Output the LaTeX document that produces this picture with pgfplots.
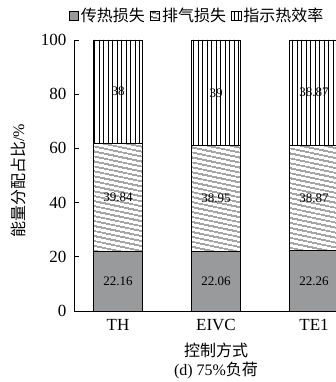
\documentclass[border=0pt]{standalone}
\usepackage{pgfplots}
\usepackage{pgfplotstable}
\pgfplotsset{compat=1.18}
\usepackage{fontspec}
\setmainfont{Liberation Serif}
\newfontfamily\cjk{Noto Sans CJK SC}
\usetikzlibrary{patterns.meta}
\definecolor{barGray}{RGB}{153,154,156}

\pgfplotstableread{
x heat exhaust indicated
0 22.16 39.84 38
1 22.06 38.95 39
2 22.26 38.87 38.87
}\energy

\pgfplotstableread{
x y label
0 11.08 22.16
1 11.03 22.06
2 11.13 22.26
0 42.08 39.84
1 41.535 38.95
2 41.695 38.87
0 81 38
1 80.51 39
2 80.565 38.87
}\labels

\begin{document}
\begin{tikzpicture}
\useasboundingbox (-74pt,-71pt) rectangle (262pt,311pt);
\clip (-74pt,-71pt) rectangle (262pt,311pt);
\pgfplotsset{
  common/.style={
    at={(0pt,0pt)}, anchor=south west,
    width=284pt, height=271pt, scale only axis,
    xmin=-0.449, xmax=2.449, ymin=0, ymax=100,
  }
}
\begin{axis}[
  common,
  ybar stacked, bar width=49.5pt,
  axis x line*=bottom, axis y line*=left,
  x axis line style={-, line width=0.8pt},
  y axis line style={-, line width=0.8pt},
  xtick={0,1,2}, xticklabels={TH,EIVC,TE1},
  xtick style={draw=none},
  ytick={0,20,40,60,80,100},
  tick align=inside, major tick length=5pt,
  ytick style={line width=0.8pt, black},
  tick label style={font=\fontsize{17}{17}\selectfont},
  /pgf/number format/assume math mode=true,
  xticklabel style={yshift=-5pt},
  yticklabel style={xshift=-4pt},
  ylabel={{\cjk 能量分配占比}/\%},
  every axis y label/.style={at={(axis description cs:-0.197,0.48)}, rotate=90, anchor=center, font=\fontsize{16}{16}\selectfont},
  xlabel={{\cjk 控制方式}\\(d) 75\%{\cjk 负荷}},
  every axis x label/.style={at={(axis description cs:0.5,-0.1836)}, anchor=center, align=center, font=\fontsize{16}{18.5}\selectfont},
  legend columns=3,
  legend style={at={(axis description cs:0.433,1.089)}, anchor=center, draw=none, fill=none,
    font=\fontsize{16}{16}\selectfont\cjk,
    /tikz/every even column/.append style={column sep=3pt},
    inner sep=0pt},
  legend image code/.code={\draw[#1] (0pt,-4.5pt) rectangle (9.5pt,4.5pt);},
]
\addplot[fill=barGray, draw=black, line width=0.8pt] table[x=x, y=heat] {\energy};
\addplot[draw=black, line width=0.8pt, pattern={Lines[angle=-12, distance=4pt, line width=0.9pt]}] table[x=x, y=exhaust] {\energy};
\addplot[draw=black, line width=0.8pt, pattern={Lines[angle=90, distance=4.5pt, line width=0.9pt]}] table[x=x, y=indicated] {\energy};
\legend{传热损失,排气损失,指示热效率}
\end{axis}
\begin{axis}[
  common, hide axis,
]
\addplot[only marks, mark=none, nodes near coords, point meta=explicit symbolic,
  every node near coord/.style={anchor=center, font=\fontsize{13}{13}\selectfont, inner sep=0pt}]
  table[x=x, y=y, meta=label] {\labels};
\end{axis}
\end{tikzpicture}
\end{document}
